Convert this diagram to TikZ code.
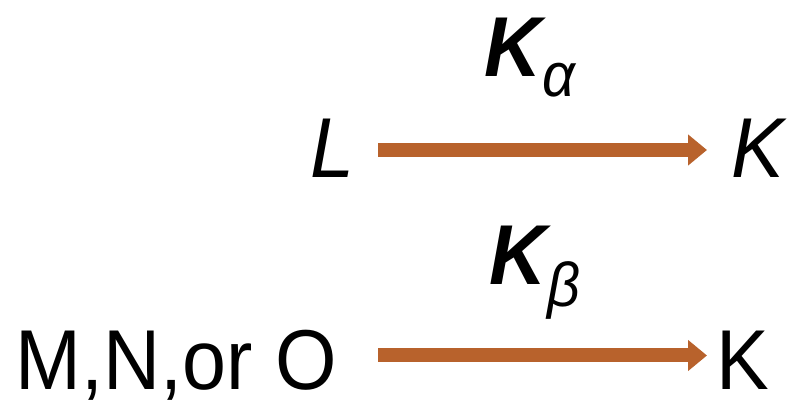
\documentclass[tikz,border=0pt]{standalone}
\usepackage{fontspec}
\setmainfont{Liberation Sans}
\usetikzlibrary{arrows.meta}
\definecolor{arrowbrown}{RGB}{184,98,44}
\begin{document}
\begin{tikzpicture}[x=0.5pt,y=-0.5pt,
  lbl/.style={inner sep=0pt,outer sep=0pt,anchor=base west,xscale=0.93,
    font=\fontsize{42.5}{50}\selectfont},
  arr/.style={draw=arrowbrown,line width=7pt,
    -{Triangle[length=9.5pt,width=15pt,fill=arrowbrown]}}]
\useasboundingbox (0,0) rectangle (794,401);
% top row
\node[lbl] (ka) at (484,77) {\textbf{\textit{K}}\kern-2pt\raisebox{-10pt}{\fontsize{31}{34}\selectfont\itshape α}};
\node[lbl] (L) at (310,178) {\itshape L};
\node[lbl] (K1) at (731,178) {\itshape K};
\coordinate (a1s) at (378,150);
\coordinate (a1e) at (707,150);
\draw[arr] (a1s) -- (a1e);
% bottom row
\node[lbl] (kb) at (489,285) {\textbf{\textit{K}}\kern-2pt\raisebox{-11pt}{\fontsize{31}{34}\selectfont\itshape β}};
\node[lbl] (MNO) at (16,389) {M,N,or O};
\node[lbl] (K2) at (716,389) {K};
\coordinate (a2s) at (378,355.5);
\coordinate (a2e) at (707,355.5);
\draw[arr] (a2s) -- (a2e);
\end{tikzpicture}
\end{document}
